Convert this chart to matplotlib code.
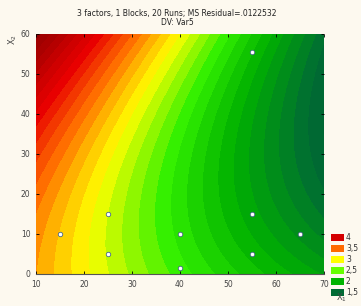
import numpy as np
import matplotlib
matplotlib.use("Agg")
import matplotlib.pyplot as plt
from matplotlib.colors import LinearSegmentedColormap
from matplotlib.patches import Rectangle

# fitted response surface z = b0 + b1*x + b2*y + b11*x^2 + b22*y^2 + b12*x*y
b0, b1, b2 = 3.49116, -0.030088, 0.0060048
b11, b22, b12 = 0.0001026, 0.0003233, -0.0004491

# design points
px = [15, 25, 25, 40, 40, 55, 55, 65, 55]
py = [10, 15, 5, 10, 1.5, 15, 5, 10, 55.5]

legend_vals = ["4", "3,5", "3", "2,5", "2", "1,5"]
legend_cols = ["#d40000", "#ff6a00", "#ffff00", "#66ff00", "#00b400", "#006b34"]

bg = "#fdf9ef"
fig = plt.figure(figsize=(3.61, 3.06), dpi=100, facecolor=bg)
ax = fig.add_axes([0.0997, 0.1046, 0.7978, 0.7844])
ax.set_facecolor(bg)

xg = np.linspace(10, 70, 200)
yg = np.linspace(0, 60, 200)
X, Y = np.meshgrid(xg, yg)
Z = b0 + b1 * X + b2 * Y + b11 * X ** 2 + b22 * Y ** 2 + b12 * X * Y

zmin, zmax = 1.0, 4.6
anchors = [(1.0, "#005a2e"), (1.5, "#006b34"), (2.0, "#00b000"), (2.45, "#33f000"),
           (2.9, "#ffff00"), (3.35, "#ff7000"), (3.75, "#e80000"), (4.2, "#b00000"),
           (4.6, "#8a0000")]
cmap = LinearSegmentedColormap.from_list(
    "stat", [((v - zmin) / (zmax - zmin), c) for v, c in anchors])
levels = np.arange(1.0, 4.81, 0.1)
ax.contourf(X, Y, Z, levels=levels, cmap=cmap, vmin=zmin, vmax=zmax, extend="both")

ax.plot(px, py, "o", ms=3.2, mfc="white", mec="#4a6a8a", mew=0.6, ls="none")

ax.set_xlim(10, 70)
ax.set_ylim(0, 60)
ax.set_xticks(range(10, 71, 10))
ax.set_yticks(range(0, 61, 10))
ax.tick_params(direction="in", length=2, width=0.6, labelsize=5.5,
               labelcolor="#444444", top=True, right=True, pad=4)
for s in ["top", "right", "left"]:
    ax.spines[s].set_visible(False)
ax.spines["bottom"].set_color("#555555")
ax.spines["bottom"].set_linewidth(0.8)

fig.text(0.49, 0.955, "3 factors, 1 Blocks, 20 Runs; MS Residual=.0122532",
         ha="center", va="center", fontsize=5.5, color="#222222")
fig.text(0.49, 0.925, "DV: Var5", ha="center", va="center", fontsize=5.5,
         color="#222222")
fig.text(0.036, 0.87, "X$_2$", rotation=90, ha="center", va="center",
         fontsize=6, color="#444444")
fig.text(0.945, 0.027, "X$_1$", ha="center", va="center", fontsize=6,
         color="#444444")

# legend
ys = [237, 248, 259, 270, 281, 292]
for v, c, yy in zip(legend_vals, legend_cols, ys):
    fig.patches.append(Rectangle((331 / 361, 1 - (yy + 4) / 306), 13 / 361, 7 / 306,
                                 transform=fig.transFigure, facecolor=c,
                                 edgecolor="none"))
    fig.text(346 / 361, 1 - yy / 306, v, ha="left", va="center", fontsize=5.5,
             color="#333333")

fig.savefig("out.png", dpi=100, facecolor=bg)
